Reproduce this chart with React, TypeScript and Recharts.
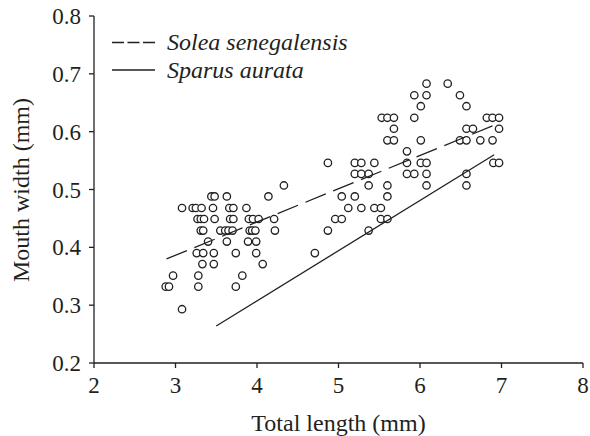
import React from "react";
import { ComposedChart, Scatter, XAxis, YAxis, Legend } from "recharts";

// mouth width rows (mm), measured in steps of ~0.0195 mm
const MOUTH_WIDTH = [
  0.293, 0.332, 0.351, 0.371, 0.39, 0.41, 0.429, 0.449, 0.468, 0.488,
  0.507, 0.527, 0.546, 0.566, 0.585, 0.605, 0.624, 0.644, 0.663, 0.683,
];

// total length of every larva on each row above
const TOTAL_LENGTH = [
  [3.08],
  [2.88, 2.92, 3.28, 3.74],
  [2.97, 3.28, 3.82],
  [3.33, 3.47, 4.07],
  [3.26, 3.34, 3.47, 3.74, 3.99, 4.71],
  [3.4, 3.63, 3.89, 3.99],
  [3.31, 3.34, 3.55, 3.61, 3.65, 3.7, 3.91, 3.94, 3.98, 4.22, 4.87, 5.37],
  [3.27, 3.31, 3.35, 3.48, 3.67, 3.71, 3.9, 3.95, 4.02, 4.21, 4.96, 5.04, 5.52, 5.6],
  [3.08, 3.21, 3.25, 3.32, 3.46, 3.66, 3.71, 3.87, 5.12, 5.28, 5.44, 5.52],
  [3.44, 3.48, 3.63, 4.14, 5.04, 5.2, 5.6],
  [4.33, 5.37, 5.6, 6.08, 6.57],
  [5.2, 5.28, 5.37, 5.84, 5.93, 6.08, 6.57],
  [4.87, 5.2, 5.28, 5.44, 5.84, 6.01, 6.08, 6.9, 6.97],
  [5.84],
  [5.6, 5.68, 6.01, 6.49, 6.57, 6.74, 6.89],
  [5.68, 6.57, 6.65, 6.97],
  [5.53, 5.6, 5.68, 5.93, 6.82, 6.89, 6.97],
  [6.01, 6.57],
  [5.93, 6.08, 6.49],
  [6.08, 6.34],
];

// fitted regression lines (end points)
const SOLEA_FIT = [
  { x: 2.89, y: 0.38 },
  { x: 6.96, y: 0.614 },
];
const SPARUS_FIT = [
  { x: 3.5, y: 0.264 },
  { x: 6.91, y: 0.56 },
];

const X_TICKS = [2, 3, 4, 5, 6, 7, 8];
const Y_TICKS = [0.2, 0.3, 0.4, 0.5, 0.6, 0.7, 0.8];

const LEGEND_ITEMS = [
  { name: "Solea senegalensis", dash: "12 3.5" },
  { name: "Sparus aurata", dash: undefined },
];

const INK = "#231f20";
const FONT = "Liberation Serif";

const points = MOUTH_WIDTH.flatMap((y, i) => TOTAL_LENGTH[i].map((x) => ({ x, y }))).sort(
  (a, b) => a.x - b.x
);

const Ring = (props: any) => (
  <circle cx={props.cx} cy={props.cy} r={3.7} fill="#fff" stroke={INK} strokeWidth={1.3} />
);

const Nothing = () => <g />;

const renderLegend = () => (
  <svg width={270} height={60} style={{ display: "block", fontFamily: FONT }}>
    {LEGEND_ITEMS.map((item, i) => (
      <g key={item.name}>
        <line
          x1={12}
          x2={55}
          y1={16.5 + i * 27.5}
          y2={16.5 + i * 27.5}
          stroke={INK}
          strokeWidth={1.3}
          strokeDasharray={item.dash}
        />
        <text x={67} y={24 + i * 27.5} fill={INK} fontSize={24} fontStyle="italic" style={{ fontFamily: FONT }}>
          {item.name}
        </text>
      </g>
    ))}
  </svg>
);

const YTitle = () => (
  <text
    transform="translate(29,190) rotate(-90)"
    textAnchor="middle"
    fill={INK}
    fontSize={24}
    style={{ fontFamily: FONT }}
  >
    Mouth width (mm)
  </text>
);

const tickStyle = { fill: INK, fontSize: 23, fontFamily: FONT };

export default function App() {
  return (
    <div style={{ position: "absolute", left: 0, top: 0, background: "#fff", fontFamily: FONT }}>
      <ComposedChart
        width={590}
        height={436}
        margin={{ top: 16, right: 7, bottom: 0, left: 0 }}
        style={{ fontFamily: FONT }}
      >
        <XAxis
          type="number"
          dataKey="x"
          domain={[2, 8]}
          ticks={X_TICKS}
          height={73}
          tickSize={5}
          tickMargin={9}
          tick={tickStyle}
          axisLine={{ stroke: INK, strokeWidth: 1.3 }}
          tickLine={{ stroke: INK, strokeWidth: 1.3 }}
          label={{ value: "Total length (mm)", position: "insideBottom", offset: 5, fill: INK, fontSize: 24 }}
        />
        <XAxis
          xAxisId="top"
          orientation="top"
          type="number"
          dataKey="x"
          domain={[2, 8]}
          ticks={X_TICKS}
          height={0}
          mirror
          tickSize={5}
          tick={Nothing}
          axisLine={{ stroke: INK, strokeWidth: 1.3 }}
          tickLine={{ stroke: INK, strokeWidth: 1.3 }}
        />
        <YAxis
          type="number"
          dataKey="y"
          domain={[0.2, 0.8]}
          ticks={Y_TICKS}
          width={94}
          tickSize={5}
          tickMargin={8}
          tick={tickStyle}
          tickFormatter={(v: number) => v.toFixed(1)}
          axisLine={{ stroke: INK, strokeWidth: 1.3 }}
          tickLine={{ stroke: INK, strokeWidth: 1.3 }}
          label={{ content: YTitle }}
        />
        <YAxis
          yAxisId="right"
          orientation="right"
          type="number"
          dataKey="y"
          domain={[0.2, 0.8]}
          ticks={Y_TICKS}
          width={0}
          mirror
          tickSize={5}
          tick={Nothing}
          axisLine={{ stroke: INK, strokeWidth: 1.3 }}
          tickLine={{ stroke: INK, strokeWidth: 1.3 }}
        />
        <Scatter data={points} shape={Ring} isAnimationActive={false} />
        <Scatter
          data={SOLEA_FIT}
          shape={Nothing}
          line={{ stroke: INK, strokeWidth: 1.3, strokeDasharray: "22 8" }}
          isAnimationActive={false}
        />
        <Scatter
          data={SPARUS_FIT}
          shape={Nothing}
          line={{ stroke: INK, strokeWidth: 1.3 }}
          isAnimationActive={false}
        />
        <Legend
          layout="horizontal"
          verticalAlign="middle"
          align="center"
          content={renderLegend}
          wrapperStyle={{ top: 26, left: 100, width: 270, height: 60 }}
        />
      </ComposedChart>
    </div>
  );
}
